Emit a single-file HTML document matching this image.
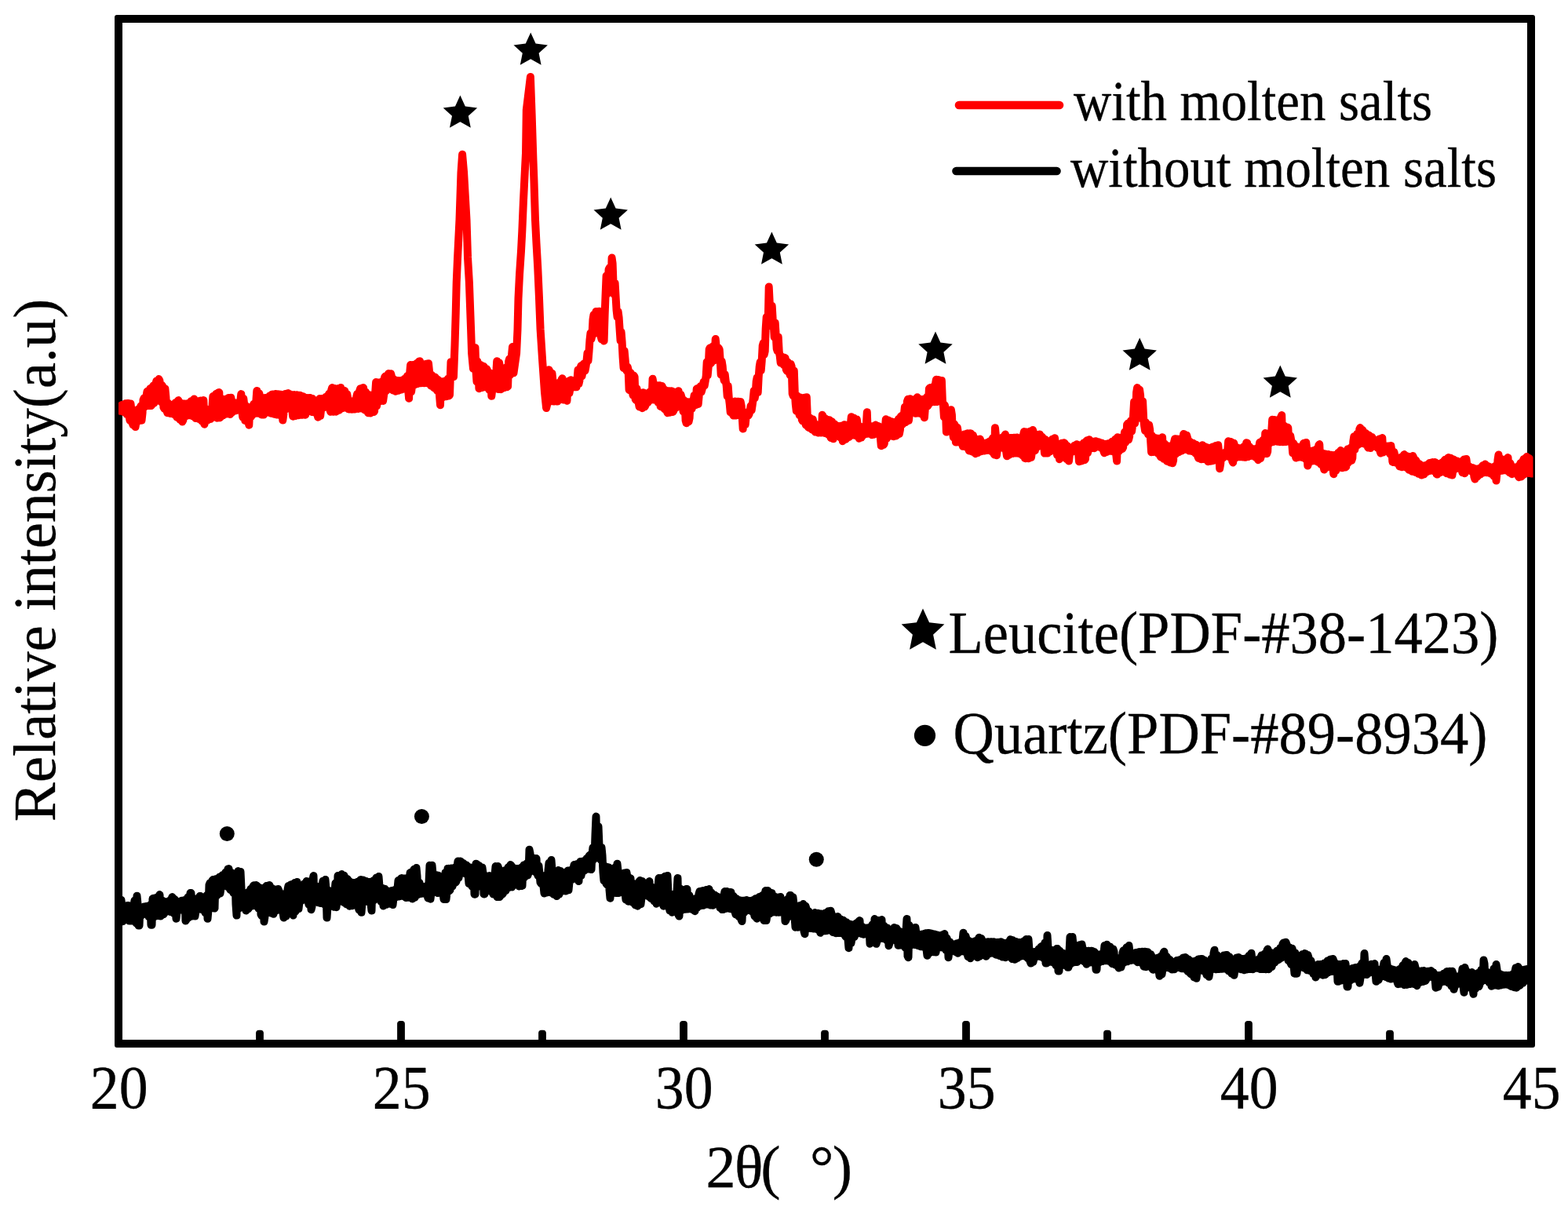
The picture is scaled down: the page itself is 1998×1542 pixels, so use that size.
<!DOCTYPE html>
<html lang="en">
<head>
<meta charset="utf-8">
<title>XRD patterns with and without molten salts</title>
<style>
html,body{margin:0;padding:0;background:#fff;}
body{width:1998px;height:1542px;overflow:hidden;}
svg{display:block;}
</style>
</head>
<body>
<svg width="1998" height="1542" viewBox="0 0 1998 1542">
<rect width="1998" height="1542" fill="#fff"/>
<g id="axes" fill="#000">
<path fill-rule="evenodd" d="M149 19H1953Q1956 19 1956 22V1332Q1956 1335 1953 1335H149Q146 1335 146 1332V22Q146 19 149 19ZM156 29V1325H1946V29Z"/>
</g>
<g id="ticks" fill="#000">
<rect x="506.1" y="1301" width="9.8" height="28" rx="3.8"/>
<rect x="866.1" y="1301" width="9.8" height="28" rx="3.8"/>
<rect x="1226.1" y="1301" width="9.8" height="28" rx="3.8"/>
<rect x="1586.1" y="1301" width="9.8" height="28" rx="3.8"/>
<rect x="326.1" y="1312.8" width="9.8" height="16" rx="3.8"/>
<rect x="686.1" y="1312.8" width="9.8" height="16" rx="3.8"/>
<rect x="1046.1" y="1312.8" width="9.8" height="16" rx="3.8"/>
<rect x="1406.1" y="1312.8" width="9.8" height="16" rx="3.8"/>
<rect x="1766.1" y="1312.8" width="9.8" height="16" rx="3.8"/>
</g>
<defs><clipPath id="plotclip"><rect x="151" y="24" width="1802.5" height="1306"/></clipPath></defs>
<g clip-path="url(#plotclip)">
<polyline id="curve-without" points="146.0,1147.1 151.0,1147.1 152.5,1171.6 153.5,1172.7 154.5,1147.1 155.5,1155.1 156.5,1174.2 157.5,1172.2 158.5,1156.7 159.5,1156.7 160.5,1171.3 161.5,1172.1 162.5,1154.1 163.5,1154.1 164.5,1173.6 165.5,1173.5 166.5,1155.7 167.5,1155.7 168.5,1173.4 169.5,1173.3 170.5,1154.1 171.5,1147.4 172.5,1174.2 173.5,1176.5 174.5,1141.7 175.5,1151.9 176.5,1179.6 177.5,1179.6 178.5,1155.9 179.5,1156.9 180.5,1166.6 181.5,1165.4 182.5,1156.3 183.5,1155.5 184.5,1164.8 185.5,1164.3 186.5,1155.1 187.5,1155.1 188.5,1165.2 189.5,1168.3 190.5,1154.7 191.5,1153.1 192.5,1178.8 193.5,1178.8 194.5,1145.3 195.5,1144.8 196.5,1168.5 197.5,1166.7 198.5,1144.3 199.5,1143.7 200.5,1166.5 201.5,1167.1 202.5,1142.1 203.5,1140.1 204.5,1167.6 205.5,1166.6 206.5,1147.2 207.5,1149.0 208.5,1165.2 209.5,1163.2 210.5,1149.4 211.5,1149.2 212.5,1161.6 213.5,1161.4 214.5,1149.0 215.5,1148.1 216.5,1161.7 217.5,1162.1 218.5,1145.4 219.5,1143.1 220.5,1162.6 221.5,1164.1 222.5,1145.9 223.5,1148.9 224.5,1170.8 225.5,1161.4 226.5,1149.9 227.5,1149.3 228.5,1159.6 229.5,1158.6 230.5,1148.3 231.5,1147.7 232.5,1158.6 233.5,1160.2 234.5,1147.4 235.5,1147.0 236.5,1173.6 237.5,1172.0 238.5,1146.1 239.5,1143.2 240.5,1169.3 241.5,1167.7 242.5,1138.1 243.5,1138.1 244.5,1167.3 245.5,1167.4 246.5,1144.8 247.5,1146.4 248.5,1167.6 249.5,1160.5 250.5,1146.6 251.5,1145.2 252.5,1158.7 253.5,1158.4 254.5,1142.1 255.5,1142.1 256.5,1158.8 257.5,1159.2 258.5,1144.1 259.5,1145.0 260.5,1160.1 261.5,1163.2 262.5,1144.1 263.5,1140.8 264.5,1170.8 265.5,1159.5 266.5,1127.9 267.5,1125.3 268.5,1157.7 269.5,1157.3 270.5,1122.0 271.5,1121.0 272.5,1157.4 273.5,1157.6 274.5,1120.5 275.5,1120.0 276.5,1141.4 277.5,1139.6 278.5,1119.2 279.5,1117.7 280.5,1138.5 281.5,1131.9 282.5,1116.3 283.5,1115.3 284.5,1128.4 285.5,1127.4 286.5,1114.2 287.5,1111.4 288.5,1128.1 289.5,1129.9 290.5,1107.5 291.5,1107.1 292.5,1131.9 293.5,1133.9 294.5,1111.7 295.5,1113.5 296.5,1135.9 297.5,1138.0 298.5,1113.8 299.5,1113.3 300.5,1152.5 301.5,1166.6 302.5,1112.7 303.5,1110.1 304.5,1157.7 305.5,1155.1 306.5,1111.1 307.5,1132.1 308.5,1154.4 309.5,1155.4 310.5,1138.8 311.5,1139.9 312.5,1157.8 313.5,1160.6 314.5,1139.2 315.5,1137.4 316.5,1158.3 317.5,1156.3 318.5,1135.4 319.5,1132.8 320.5,1154.7 321.5,1154.2 322.5,1129.3 323.5,1128.2 324.5,1154.1 325.5,1154.3 326.5,1128.1 327.5,1128.6 328.5,1155.1 329.5,1157.9 330.5,1130.9 331.5,1132.6 332.5,1165.4 333.5,1167.0 334.5,1132.8 335.5,1131.8 336.5,1174.6 337.5,1167.9 338.5,1130.5 339.5,1129.0 340.5,1163.4 341.5,1162.3 342.5,1128.4 343.5,1128.1 344.5,1163.0 345.5,1163.5 346.5,1131.7 347.5,1133.6 348.5,1164.8 349.5,1160.7 350.5,1133.9 351.5,1133.5 352.5,1160.1 353.5,1159.7 354.5,1133.1 355.5,1135.5 356.5,1159.3 357.5,1160.1 358.5,1138.8 359.5,1140.5 360.5,1162.7 361.5,1169.6 362.5,1140.7 363.5,1139.3 364.5,1167.5 365.5,1162.4 366.5,1133.6 367.5,1128.9 368.5,1161.3 369.5,1162.0 370.5,1127.5 371.5,1127.1 372.5,1164.3 373.5,1166.6 374.5,1126.3 375.5,1125.1 376.5,1161.5 377.5,1159.7 378.5,1124.1 379.5,1129.7 380.5,1158.1 381.5,1149.5 382.5,1131.6 383.5,1131.8 384.5,1147.7 385.5,1147.0 386.5,1130.4 387.5,1126.4 388.5,1146.5 389.5,1146.5 390.5,1123.1 391.5,1123.4 392.5,1147.8 393.5,1152.9 394.5,1123.9 395.5,1123.3 396.5,1159.2 397.5,1155.2 398.5,1120.7 399.5,1116.1 400.5,1149.4 401.5,1148.4 402.5,1128.9 403.5,1131.7 404.5,1149.0 405.5,1150.2 406.5,1132.6 407.5,1131.7 408.5,1151.1 409.5,1151.1 410.5,1128.5 411.5,1122.7 412.5,1151.5 413.5,1152.8 414.5,1121.1 415.5,1132.6 416.5,1169.6 417.5,1155.0 418.5,1134.6 419.5,1135.6 420.5,1153.0 421.5,1152.6 422.5,1136.6 423.5,1136.8 424.5,1153.8 425.5,1155.8 426.5,1135.4 427.5,1125.3 428.5,1156.2 429.5,1148.8 430.5,1116.1 431.5,1116.1 432.5,1147.0 433.5,1146.6 434.5,1115.8 435.5,1114.1 436.5,1147.8 437.5,1149.8 438.5,1115.7 439.5,1118.8 440.5,1151.7 441.5,1152.2 442.5,1120.0 443.5,1121.2 444.5,1152.9 445.5,1154.7 446.5,1123.8 447.5,1124.9 448.5,1154.3 449.5,1153.9 450.5,1125.1 451.5,1125.1 452.5,1153.3 453.5,1154.0 454.5,1124.8 455.5,1123.7 456.5,1156.3 457.5,1159.5 458.5,1122.4 459.5,1121.1 460.5,1162.8 461.5,1149.6 462.5,1121.4 463.5,1122.0 464.5,1148.4 465.5,1148.6 466.5,1123.0 467.5,1123.9 468.5,1149.0 469.5,1149.4 470.5,1124.1 471.5,1124.1 472.5,1150.8 473.5,1160.6 474.5,1123.8 475.5,1122.5 476.5,1147.2 477.5,1143.2 478.5,1120.5 479.5,1118.5 480.5,1142.3 481.5,1143.2 482.5,1117.1 483.5,1129.3 484.5,1145.8 485.5,1149.0 486.5,1131.5 487.5,1132.2 488.5,1154.5 489.5,1153.2 490.5,1132.8 491.5,1134.8 492.5,1152.7 493.5,1152.0 494.5,1135.9 495.5,1135.7 496.5,1151.3 497.5,1151.8 498.5,1135.3 499.5,1134.9 500.5,1153.1 501.5,1144.5 502.5,1134.4 503.5,1133.8 504.5,1143.3 505.5,1142.9 506.5,1132.5 507.5,1122.1 508.5,1142.5 509.5,1142.0 510.5,1120.4 511.5,1119.1 512.5,1141.3 513.5,1141.9 514.5,1119.4 515.5,1119.7 516.5,1143.1 517.5,1144.1 518.5,1119.8 519.5,1118.4 520.5,1143.7 521.5,1143.3 522.5,1112.3 523.5,1111.8 524.5,1143.9 525.5,1145.5 526.5,1110.4 527.5,1107.7 528.5,1144.1 529.5,1142.1 530.5,1106.1 531.5,1116.4 532.5,1140.1 533.5,1139.2 534.5,1125.0 535.5,1129.0 536.5,1138.9 537.5,1138.6 538.5,1130.0 539.5,1130.1 540.5,1138.2 541.5,1139.1 542.5,1130.0 543.5,1129.1 544.5,1141.7 545.5,1144.6 546.5,1125.1 547.5,1102.7 548.5,1145.7 549.5,1137.4 550.5,1102.7 551.5,1113.7 552.5,1135.8 553.5,1135.6 554.5,1114.9 555.5,1115.1 556.5,1136.7 557.5,1138.1 558.5,1115.7 559.5,1121.9 560.5,1137.7 561.5,1137.4 562.5,1123.5 563.5,1123.5 564.5,1138.6 565.5,1146.1 566.5,1121.9 567.5,1111.9 568.5,1146.1 569.5,1136.5 570.5,1107.0 571.5,1106.8 572.5,1135.3 573.5,1134.4 574.5,1106.6 575.5,1106.4 576.5,1129.4 577.5,1126.2 578.5,1106.1 579.5,1105.7 580.5,1124.7 581.5,1123.2 582.5,1104.1 583.5,1097.5 584.5,1118.5 585.5,1113.3 586.5,1097.5 587.5,1098.1 588.5,1112.3 589.5,1112.6 590.5,1100.1 591.5,1101.6 592.5,1113.0 593.5,1113.5 594.5,1102.6 595.5,1103.8 596.5,1115.1 597.5,1126.1 598.5,1105.3 599.5,1106.6 600.5,1127.9 601.5,1129.5 602.5,1106.6 603.5,1105.0 604.5,1139.7 605.5,1139.7 606.5,1100.7 607.5,1101.1 608.5,1130.3 609.5,1129.3 610.5,1103.0 611.5,1104.6 612.5,1129.2 613.5,1130.1 614.5,1105.6 615.5,1113.0 616.5,1139.5 617.5,1139.5 618.5,1116.0 619.5,1117.5 620.5,1134.6 621.5,1133.4 622.5,1117.7 623.5,1116.1 624.5,1133.8 625.5,1136.0 626.5,1116.7 627.5,1116.6 628.5,1139.5 629.5,1139.3 630.5,1115.1 631.5,1104.1 632.5,1139.6 633.5,1143.1 634.5,1104.1 635.5,1107.0 636.5,1143.1 637.5,1142.0 638.5,1109.8 639.5,1110.9 640.5,1139.3 641.5,1137.5 642.5,1110.2 643.5,1109.2 644.5,1134.9 645.5,1131.9 646.5,1108.2 647.5,1105.3 648.5,1130.9 649.5,1130.6 650.5,1102.1 651.5,1103.1 652.5,1130.4 653.5,1128.3 654.5,1105.9 655.5,1106.9 656.5,1126.7 657.5,1126.5 658.5,1107.1 659.5,1107.1 660.5,1127.7 661.5,1129.5 662.5,1107.0 663.5,1106.1 664.5,1129.1 665.5,1128.7 666.5,1103.9 667.5,1102.3 668.5,1117.9 669.5,1116.0 670.5,1101.7 671.5,1100.1 672.5,1115.4 673.5,1112.4 674.5,1082.7 675.5,1087.6 676.5,1109.4 677.5,1108.4 678.5,1092.9 679.5,1093.9 680.5,1109.0 681.5,1110.9 682.5,1094.1 683.5,1094.1 684.5,1112.9 685.5,1116.0 686.5,1103.5 687.5,1114.0 688.5,1124.5 689.5,1126.0 690.5,1117.6 691.5,1118.7 692.5,1129.0 693.5,1138.5 694.5,1118.0 695.5,1115.4 696.5,1137.6 697.5,1136.6 698.5,1108.7 699.5,1099.7 700.5,1136.5 701.5,1137.5 702.5,1096.1 703.5,1108.7 704.5,1138.6 705.5,1139.8 706.5,1110.5 707.5,1110.8 708.5,1141.0 709.5,1142.1 710.5,1110.0 711.5,1109.1 712.5,1139.7 713.5,1136.3 714.5,1110.1 715.5,1111.9 716.5,1135.3 717.5,1135.3 718.5,1112.9 719.5,1112.2 720.5,1135.4 721.5,1135.5 722.5,1110.7 723.5,1109.6 724.5,1134.3 725.5,1124.0 726.5,1109.2 727.5,1108.7 728.5,1121.1 729.5,1120.2 730.5,1107.2 731.5,1102.1 732.5,1119.7 733.5,1119.3 734.5,1101.5 735.5,1101.0 736.5,1120.0 737.5,1123.1 738.5,1100.2 739.5,1097.9 740.5,1115.9 741.5,1111.3 742.5,1097.6 743.5,1097.4 744.5,1109.8 745.5,1108.3 746.5,1096.6 747.5,1094.2 748.5,1107.3 749.5,1107.6 750.5,1090.8 751.5,1089.8 752.5,1107.9 753.5,1108.1 754.5,1088.3 755.5,1080.1 756.5,1095.5 757.5,1093.6 758.5,1064.0 759.5,1040.6 760.5,1093.1 761.5,1093.1 762.5,1053.4 763.5,1077.7 764.5,1093.8 765.5,1095.9 766.5,1079.9 767.5,1090.3 768.5,1111.9 769.5,1122.4 770.5,1103.4 771.5,1104.8 772.5,1126.2 773.5,1127.3 774.5,1105.1 775.5,1105.3 776.5,1133.9 777.5,1144.7 778.5,1107.9 779.5,1108.9 780.5,1138.8 781.5,1137.5 782.5,1108.3 783.5,1105.6 784.5,1137.5 785.5,1138.0 786.5,1100.7 787.5,1109.8 788.5,1138.1 789.5,1137.6 790.5,1113.0 791.5,1113.9 792.5,1137.1 793.5,1137.1 794.5,1113.1 795.5,1112.5 796.5,1138.4 797.5,1146.6 798.5,1112.1 799.5,1117.8 800.5,1148.7 801.5,1148.4 802.5,1118.9 803.5,1119.3 804.5,1148.5 805.5,1149.8 806.5,1125.6 807.5,1127.4 808.5,1151.8 809.5,1153.4 810.5,1127.6 811.5,1126.3 812.5,1154.7 813.5,1153.2 814.5,1123.3 815.5,1122.1 816.5,1152.2 817.5,1143.6 818.5,1123.0 819.5,1124.9 820.5,1140.2 821.5,1139.3 822.5,1126.5 823.5,1126.7 824.5,1140.2 825.5,1142.0 826.5,1125.4 827.5,1123.1 828.5,1143.8 829.5,1144.9 830.5,1130.5 831.5,1133.5 832.5,1145.9 833.5,1148.4 834.5,1134.4 835.5,1133.5 836.5,1151.7 837.5,1150.3 838.5,1129.5 839.5,1119.1 840.5,1149.3 841.5,1150.0 842.5,1119.1 843.5,1118.8 844.5,1152.3 845.5,1154.7 846.5,1117.5 847.5,1116.7 848.5,1154.5 849.5,1154.5 850.5,1116.1 851.5,1138.7 852.5,1155.9 853.5,1160.6 854.5,1139.9 855.5,1140.1 856.5,1162.8 857.5,1160.7 858.5,1140.1 859.5,1139.3 860.5,1160.5 861.5,1161.9 862.5,1136.7 863.5,1119.1 864.5,1165.9 865.5,1167.6 866.5,1132.2 867.5,1134.4 868.5,1160.2 869.5,1159.0 870.5,1134.8 871.5,1133.9 872.5,1158.8 873.5,1158.8 874.5,1133.1 875.5,1133.1 876.5,1158.5 877.5,1157.7 878.5,1141.2 879.5,1145.1 880.5,1157.5 881.5,1158.7 882.5,1146.0 883.5,1146.1 884.5,1160.4 885.5,1161.2 886.5,1145.8 887.5,1144.4 888.5,1156.8 889.5,1154.8 890.5,1139.2 891.5,1135.9 892.5,1154.2 893.5,1153.9 894.5,1135.5 895.5,1135.1 896.5,1153.7 897.5,1153.0 898.5,1134.6 899.5,1134.1 900.5,1152.4 901.5,1152.6 902.5,1133.6 903.5,1133.1 904.5,1153.1 905.5,1153.5 906.5,1137.4 907.5,1139.5 908.5,1153.7 909.5,1152.6 910.5,1140.4 911.5,1141.2 912.5,1151.5 913.5,1151.5 914.5,1142.6 915.5,1144.1 916.5,1153.1 917.5,1156.9 918.5,1145.0 919.5,1144.1 920.5,1159.1 921.5,1159.1 922.5,1140.8 923.5,1136.1 924.5,1157.9 925.5,1157.2 926.5,1136.1 927.5,1136.6 928.5,1157.5 929.5,1157.9 930.5,1137.0 931.5,1137.2 932.5,1158.2 933.5,1159.1 934.5,1141.7 935.5,1143.5 936.5,1161.9 937.5,1165.5 938.5,1145.2 939.5,1146.6 940.5,1166.5 941.5,1168.1 942.5,1147.2 943.5,1147.5 944.5,1171.9 945.5,1174.1 946.5,1147.8 947.5,1147.8 948.5,1162.6 949.5,1160.0 950.5,1147.4 951.5,1147.1 952.5,1159.3 953.5,1159.9 954.5,1147.9 955.5,1148.7 956.5,1160.5 957.5,1161.1 958.5,1148.7 959.5,1147.1 960.5,1162.7 961.5,1167.6 962.5,1145.4 963.5,1145.0 964.5,1170.7 965.5,1169.1 966.5,1144.2 967.5,1143.0 968.5,1168.3 969.5,1169.1 970.5,1141.9 971.5,1141.1 972.5,1171.0 973.5,1173.1 974.5,1140.1 975.5,1135.1 976.5,1173.1 977.5,1166.4 978.5,1135.1 979.5,1137.1 980.5,1164.6 981.5,1163.6 982.5,1138.0 983.5,1138.2 984.5,1162.6 985.5,1161.6 986.5,1141.9 987.5,1143.5 988.5,1161.5 989.5,1162.7 990.5,1143.8 991.5,1143.5 992.5,1162.7 993.5,1161.6 994.5,1143.1 995.5,1150.4 996.5,1161.6 997.5,1163.2 998.5,1152.1 999.5,1152.3 1000.5,1174.1 1001.5,1172.8 1002.5,1150.9 1003.5,1145.8 1004.5,1168.4 1005.5,1166.7 1006.5,1141.1 1007.5,1141.1 1008.5,1166.5 1009.5,1167.3 1010.5,1143.5 1011.5,1152.7 1012.5,1168.5 1013.5,1181.7 1014.5,1154.5 1015.5,1154.8 1016.5,1181.7 1017.5,1179.9 1018.5,1154.4 1019.5,1154.0 1020.5,1179.5 1021.5,1180.6 1022.5,1153.3 1023.5,1152.1 1024.5,1186.9 1025.5,1190.2 1026.5,1154.7 1027.5,1158.0 1028.5,1183.8 1029.5,1182.5 1030.5,1161.4 1031.5,1165.8 1032.5,1182.6 1033.5,1183.1 1034.5,1166.8 1035.5,1166.2 1036.5,1183.5 1037.5,1183.4 1038.5,1163.1 1039.5,1163.6 1040.5,1183.3 1041.5,1184.2 1042.5,1163.8 1043.5,1164.2 1044.5,1186.9 1045.5,1188.8 1046.5,1164.5 1047.5,1164.8 1048.5,1186.7 1049.5,1186.2 1050.5,1164.7 1051.5,1163.6 1052.5,1186.2 1053.5,1186.0 1054.5,1162.3 1055.5,1161.3 1056.5,1185.4 1057.5,1184.9 1058.5,1160.7 1059.5,1164.2 1060.5,1185.7 1061.5,1188.1 1062.5,1167.9 1063.5,1168.9 1064.5,1188.9 1065.5,1189.2 1066.5,1168.7 1067.5,1168.1 1068.5,1189.1 1069.5,1189.0 1070.5,1171.0 1071.5,1172.0 1072.5,1188.9 1073.5,1189.7 1074.5,1172.8 1075.5,1173.7 1076.5,1191.6 1077.5,1193.8 1078.5,1175.2 1079.5,1176.6 1080.5,1197.0 1081.5,1208.2 1082.5,1177.4 1083.5,1178.2 1084.5,1202.0 1085.5,1196.3 1086.5,1178.5 1087.5,1178.2 1088.5,1194.3 1089.5,1191.9 1090.5,1177.7 1091.5,1176.3 1092.5,1189.4 1093.5,1188.3 1094.5,1173.8 1095.5,1173.1 1096.5,1189.0 1097.5,1190.0 1098.5,1180.8 1099.5,1182.6 1100.5,1190.8 1101.5,1189.3 1102.5,1182.9 1103.5,1182.6 1104.5,1189.3 1105.5,1190.9 1106.5,1182.4 1107.5,1182.1 1108.5,1202.8 1109.5,1201.3 1110.5,1181.2 1111.5,1178.3 1112.5,1200.3 1113.5,1201.0 1114.5,1171.1 1115.5,1172.2 1116.5,1202.8 1117.5,1199.8 1118.5,1173.0 1119.5,1173.1 1120.5,1196.4 1121.5,1195.3 1122.5,1172.6 1123.5,1172.1 1124.5,1195.6 1125.5,1196.0 1126.5,1179.8 1127.5,1181.6 1128.5,1196.5 1129.5,1198.0 1130.5,1182.6 1131.5,1185.7 1132.5,1205.2 1133.5,1201.8 1134.5,1187.5 1135.5,1187.8 1136.5,1196.4 1137.5,1195.4 1138.5,1186.4 1139.5,1182.1 1140.5,1196.0 1141.5,1198.6 1142.5,1183.1 1143.5,1185.0 1144.5,1204.8 1145.5,1204.6 1146.5,1186.9 1147.5,1188.0 1148.5,1204.5 1149.5,1204.3 1150.5,1188.1 1151.5,1187.8 1152.5,1205.0 1153.5,1207.6 1154.5,1186.5 1155.5,1171.1 1156.5,1218.4 1157.5,1220.2 1158.5,1179.0 1159.5,1182.1 1160.5,1204.9 1161.5,1203.5 1162.5,1183.0 1163.5,1182.7 1164.5,1203.5 1165.5,1203.9 1166.5,1182.1 1167.5,1189.4 1168.5,1204.2 1169.5,1204.9 1170.5,1190.8 1171.5,1191.0 1172.5,1205.9 1173.5,1206.2 1174.5,1190.8 1175.5,1190.4 1176.5,1206.2 1177.5,1207.0 1178.5,1189.8 1179.5,1189.2 1180.5,1209.6 1181.5,1217.8 1182.5,1189.1 1183.5,1189.1 1184.5,1214.6 1185.5,1212.8 1186.5,1189.5 1187.5,1190.0 1188.5,1212.5 1189.5,1213.2 1190.5,1190.4 1191.5,1190.8 1192.5,1213.6 1193.5,1208.6 1194.5,1191.6 1195.5,1192.6 1196.5,1207.4 1197.5,1207.3 1198.5,1192.8 1199.5,1191.7 1200.5,1207.5 1201.5,1207.6 1202.5,1190.6 1203.5,1190.1 1204.5,1208.4 1205.5,1211.0 1206.5,1195.6 1207.5,1198.2 1208.5,1220.2 1209.5,1212.3 1210.5,1200.6 1211.5,1202.9 1212.5,1211.1 1213.5,1211.4 1214.5,1203.9 1215.5,1203.5 1216.5,1212.1 1217.5,1213.0 1218.5,1202.9 1219.5,1202.2 1220.5,1214.8 1221.5,1213.4 1222.5,1201.5 1223.5,1200.9 1224.5,1212.4 1225.5,1212.2 1226.5,1199.5 1227.5,1188.7 1228.5,1212.2 1229.5,1213.0 1230.5,1193.0 1231.5,1196.4 1232.5,1215.3 1233.5,1219.3 1234.5,1198.8 1235.5,1200.5 1236.5,1221.2 1237.5,1218.5 1238.5,1200.9 1239.5,1200.2 1240.5,1216.8 1241.5,1216.6 1242.5,1199.5 1243.5,1198.9 1244.5,1217.8 1245.5,1220.2 1246.5,1197.5 1247.5,1194.7 1248.5,1218.7 1249.5,1217.4 1250.5,1196.0 1251.5,1198.7 1252.5,1216.4 1253.5,1216.9 1254.5,1200.5 1255.5,1200.9 1256.5,1218.8 1257.5,1217.4 1258.5,1200.4 1259.5,1200.2 1260.5,1215.5 1261.5,1213.8 1262.5,1200.2 1263.5,1200.2 1264.5,1213.5 1265.5,1214.7 1266.5,1200.3 1267.5,1200.7 1268.5,1216.2 1269.5,1216.8 1270.5,1201.0 1271.5,1200.8 1272.5,1217.2 1273.5,1217.9 1274.5,1200.5 1275.5,1200.2 1276.5,1218.9 1277.5,1219.6 1278.5,1201.4 1279.5,1202.5 1280.5,1219.9 1281.5,1220.2 1282.5,1202.8 1283.5,1201.6 1284.5,1218.8 1285.5,1218.6 1286.5,1198.8 1287.5,1197.2 1288.5,1219.8 1289.5,1222.0 1290.5,1198.2 1291.5,1199.1 1292.5,1222.7 1293.5,1222.7 1294.5,1199.9 1295.5,1200.7 1296.5,1221.1 1297.5,1219.9 1298.5,1201.1 1299.5,1201.1 1300.5,1218.7 1301.5,1217.6 1302.5,1201.0 1303.5,1200.1 1304.5,1217.6 1305.5,1218.5 1306.5,1198.2 1307.5,1197.1 1308.5,1219.5 1309.5,1221.1 1310.5,1197.1 1311.5,1210.9 1312.5,1224.9 1313.5,1227.6 1314.5,1212.6 1315.5,1213.1 1316.5,1225.8 1317.5,1222.0 1318.5,1213.1 1319.5,1213.0 1320.5,1219.2 1321.5,1218.3 1322.5,1212.1 1323.5,1209.4 1324.5,1218.6 1325.5,1219.0 1326.5,1206.4 1327.5,1206.0 1328.5,1219.6 1329.5,1221.1 1330.5,1205.1 1331.5,1201.2 1332.5,1227.6 1333.5,1227.6 1334.5,1192.1 1335.5,1207.7 1336.5,1226.1 1337.5,1225.3 1338.5,1210.3 1339.5,1211.1 1340.5,1225.7 1341.5,1226.2 1342.5,1211.1 1343.5,1210.7 1344.5,1227.1 1345.5,1230.3 1346.5,1209.1 1347.5,1209.1 1348.5,1237.6 1349.5,1237.6 1350.5,1211.8 1351.5,1213.3 1352.5,1230.5 1353.5,1228.9 1354.5,1214.7 1355.5,1215.3 1356.5,1228.6 1357.5,1230.0 1358.5,1215.8 1359.5,1215.7 1360.5,1232.8 1361.5,1232.8 1362.5,1214.1 1363.5,1194.1 1364.5,1228.3 1365.5,1226.7 1366.5,1194.1 1367.5,1203.7 1368.5,1226.2 1369.5,1226.2 1370.5,1204.9 1371.5,1205.1 1372.5,1226.0 1373.5,1224.8 1374.5,1205.0 1375.5,1204.3 1376.5,1223.6 1377.5,1223.5 1378.5,1203.5 1379.5,1208.7 1380.5,1224.5 1381.5,1225.5 1382.5,1211.3 1383.5,1212.0 1384.5,1228.8 1385.5,1227.4 1386.5,1211.9 1387.5,1211.7 1388.5,1226.6 1389.5,1226.2 1390.5,1211.7 1391.5,1211.9 1392.5,1226.3 1393.5,1227.2 1394.5,1212.9 1395.5,1214.7 1396.5,1235.8 1397.5,1235.8 1398.5,1216.2 1399.5,1216.5 1400.5,1226.7 1401.5,1225.4 1402.5,1216.2 1403.5,1215.7 1404.5,1225.0 1405.5,1224.6 1406.5,1214.1 1407.5,1204.9 1408.5,1224.3 1409.5,1224.1 1410.5,1203.7 1411.5,1205.2 1412.5,1224.3 1413.5,1225.1 1414.5,1206.5 1415.5,1208.0 1416.5,1227.3 1417.5,1228.2 1418.5,1209.6 1419.5,1212.7 1420.5,1228.6 1421.5,1229.8 1422.5,1220.4 1423.5,1222.1 1424.5,1231.3 1425.5,1233.6 1426.5,1222.3 1427.5,1220.9 1428.5,1232.4 1429.5,1228.5 1430.5,1214.2 1431.5,1211.2 1432.5,1226.7 1433.5,1225.9 1434.5,1210.2 1435.5,1207.3 1436.5,1225.3 1437.5,1224.6 1438.5,1205.1 1439.5,1213.4 1440.5,1224.1 1441.5,1223.8 1442.5,1214.8 1443.5,1214.7 1444.5,1223.4 1445.5,1223.5 1446.5,1214.3 1447.5,1213.9 1448.5,1224.9 1449.5,1226.2 1450.5,1213.5 1451.5,1213.1 1452.5,1226.2 1453.5,1226.6 1454.5,1212.9 1455.5,1212.8 1456.5,1228.0 1457.5,1231.7 1458.5,1212.7 1459.5,1212.9 1460.5,1232.2 1461.5,1230.7 1462.5,1213.2 1463.5,1214.4 1464.5,1230.7 1465.5,1232.0 1466.5,1216.3 1467.5,1218.7 1468.5,1235.0 1469.5,1235.8 1470.5,1220.9 1471.5,1222.0 1472.5,1234.7 1473.5,1234.7 1474.5,1221.4 1475.5,1220.6 1476.5,1236.1 1477.5,1243.8 1478.5,1219.8 1479.5,1218.3 1480.5,1241.5 1481.5,1234.9 1482.5,1214.1 1483.5,1212.7 1484.5,1233.5 1485.5,1233.2 1486.5,1218.8 1487.5,1220.7 1488.5,1233.2 1489.5,1233.5 1490.5,1222.9 1491.5,1225.9 1492.5,1234.6 1493.5,1235.6 1494.5,1227.0 1495.5,1226.3 1496.5,1235.2 1497.5,1233.4 1498.5,1225.1 1499.5,1223.9 1500.5,1232.3 1501.5,1232.9 1502.5,1223.5 1503.5,1223.1 1504.5,1233.7 1505.5,1234.3 1506.5,1222.3 1507.5,1220.6 1508.5,1234.4 1509.5,1234.6 1510.5,1220.1 1511.5,1221.1 1512.5,1235.4 1513.5,1237.9 1514.5,1222.5 1515.5,1224.0 1516.5,1240.2 1517.5,1241.4 1518.5,1225.0 1519.5,1225.7 1520.5,1242.9 1521.5,1245.4 1522.5,1225.8 1523.5,1224.5 1524.5,1246.8 1525.5,1238.5 1526.5,1222.7 1527.5,1222.3 1528.5,1236.7 1529.5,1236.4 1530.5,1222.1 1531.5,1222.1 1532.5,1236.9 1533.5,1237.5 1534.5,1223.6 1535.5,1225.9 1536.5,1238.9 1537.5,1242.5 1538.5,1227.0 1539.5,1226.3 1540.5,1244.8 1541.5,1238.2 1542.5,1224.2 1543.5,1221.5 1544.5,1235.2 1545.5,1234.3 1546.5,1214.8 1547.5,1210.7 1548.5,1234.7 1549.5,1235.2 1550.5,1217.1 1551.5,1221.8 1552.5,1235.1 1553.5,1235.0 1554.5,1222.9 1555.5,1222.2 1556.5,1234.8 1557.5,1234.6 1558.5,1220.0 1559.5,1217.4 1560.5,1234.4 1561.5,1234.5 1562.5,1217.1 1563.5,1217.1 1564.5,1235.7 1565.5,1237.3 1566.5,1219.5 1567.5,1224.7 1568.5,1238.9 1569.5,1240.7 1570.5,1225.7 1571.5,1225.1 1572.5,1242.8 1573.5,1235.9 1574.5,1223.0 1575.5,1220.5 1576.5,1234.5 1577.5,1234.5 1578.5,1220.1 1579.5,1221.6 1580.5,1234.9 1581.5,1235.2 1582.5,1222.1 1583.5,1222.1 1584.5,1235.7 1585.5,1236.2 1586.5,1221.8 1587.5,1221.2 1588.5,1235.6 1589.5,1234.9 1590.5,1220.3 1591.5,1217.7 1592.5,1235.0 1593.5,1235.1 1594.5,1214.7 1595.5,1223.4 1596.5,1235.2 1597.5,1234.1 1598.5,1224.8 1599.5,1224.6 1600.5,1233.3 1601.5,1233.8 1602.5,1223.5 1603.5,1222.4 1604.5,1234.4 1605.5,1234.9 1606.5,1220.1 1607.5,1217.4 1608.5,1235.0 1609.5,1235.1 1610.5,1216.8 1611.5,1215.5 1612.5,1235.2 1613.5,1235.2 1614.5,1210.9 1615.5,1209.5 1616.5,1235.2 1617.5,1234.0 1618.5,1213.6 1619.5,1215.4 1620.5,1232.0 1621.5,1228.7 1622.5,1215.7 1623.5,1214.5 1624.5,1226.4 1625.5,1224.4 1626.5,1212.5 1627.5,1211.4 1628.5,1223.3 1629.5,1222.9 1630.5,1210.4 1631.5,1207.9 1632.5,1220.7 1633.5,1217.6 1634.5,1202.9 1635.5,1201.5 1636.5,1216.5 1637.5,1217.1 1638.5,1200.7 1639.5,1203.5 1640.5,1219.3 1641.5,1224.0 1642.5,1207.0 1643.5,1208.0 1644.5,1227.4 1645.5,1229.2 1646.5,1208.7 1647.5,1212.0 1648.5,1230.1 1649.5,1240.7 1650.5,1214.5 1651.5,1217.0 1652.5,1240.7 1653.5,1232.6 1654.5,1218.6 1655.5,1218.7 1656.5,1231.4 1657.5,1231.8 1658.5,1217.5 1659.5,1216.2 1660.5,1232.7 1661.5,1233.5 1662.5,1215.1 1663.5,1215.5 1664.5,1234.8 1665.5,1236.3 1666.5,1217.1 1667.5,1220.2 1668.5,1236.8 1669.5,1237.2 1670.5,1224.4 1671.5,1228.9 1672.5,1238.1 1673.5,1241.1 1674.5,1230.5 1675.5,1230.7 1676.5,1245.6 1677.5,1243.8 1678.5,1229.9 1679.5,1229.1 1680.5,1241.3 1681.5,1240.4 1682.5,1229.1 1683.5,1229.1 1684.5,1241.1 1685.5,1242.7 1686.5,1228.7 1687.5,1227.4 1688.5,1242.2 1689.5,1241.2 1690.5,1225.9 1691.5,1224.4 1692.5,1239.2 1693.5,1238.3 1694.5,1222.9 1695.5,1222.4 1696.5,1238.0 1697.5,1237.8 1698.5,1222.1 1699.5,1224.8 1700.5,1237.7 1701.5,1238.6 1702.5,1227.9 1703.5,1229.0 1704.5,1250.8 1705.5,1250.8 1706.5,1229.1 1707.5,1229.0 1708.5,1249.6 1709.5,1248.9 1710.5,1228.6 1711.5,1228.1 1712.5,1248.3 1713.5,1249.2 1714.5,1228.1 1715.5,1236.3 1716.5,1257.6 1717.5,1257.6 1718.5,1237.0 1719.5,1236.0 1720.5,1249.7 1721.5,1248.4 1722.5,1234.8 1723.5,1234.0 1724.5,1247.5 1725.5,1246.6 1726.5,1233.2 1727.5,1233.1 1728.5,1246.6 1729.5,1248.2 1730.5,1233.0 1731.5,1232.1 1732.5,1252.8 1733.5,1246.8 1734.5,1230.0 1735.5,1227.3 1736.5,1242.4 1737.5,1241.3 1738.5,1215.1 1739.5,1227.7 1740.5,1241.7 1741.5,1242.1 1742.5,1230.3 1743.5,1231.0 1744.5,1240.1 1745.5,1237.6 1746.5,1230.0 1747.5,1228.8 1748.5,1236.4 1749.5,1236.9 1750.5,1228.6 1751.5,1228.1 1752.5,1239.0 1753.5,1250.8 1754.5,1235.9 1755.5,1236.9 1756.5,1249.1 1757.5,1246.6 1758.5,1236.3 1759.5,1235.2 1760.5,1244.4 1761.5,1243.3 1762.5,1232.4 1763.5,1226.9 1764.5,1244.0 1765.5,1245.0 1766.5,1222.1 1767.5,1228.9 1768.5,1246.0 1769.5,1246.8 1770.5,1233.9 1771.5,1235.0 1772.5,1247.6 1773.5,1246.9 1774.5,1235.5 1775.5,1236.0 1776.5,1246.3 1777.5,1247.4 1778.5,1236.5 1779.5,1237.0 1780.5,1251.6 1781.5,1254.2 1782.5,1236.3 1783.5,1234.9 1784.5,1253.7 1785.5,1253.3 1786.5,1233.3 1787.5,1230.3 1788.5,1254.0 1789.5,1255.2 1790.5,1227.1 1791.5,1225.1 1792.5,1254.9 1793.5,1254.5 1794.5,1226.9 1795.5,1229.9 1796.5,1254.1 1797.5,1253.7 1798.5,1230.9 1799.5,1230.3 1800.5,1253.3 1801.5,1254.0 1802.5,1229.1 1803.5,1232.9 1804.5,1254.8 1805.5,1256.2 1806.5,1236.9 1807.5,1238.0 1808.5,1252.4 1809.5,1251.3 1810.5,1237.7 1811.5,1237.3 1812.5,1251.1 1813.5,1250.9 1814.5,1237.1 1815.5,1237.6 1816.5,1249.9 1817.5,1247.8 1818.5,1238.0 1819.5,1237.7 1820.5,1245.4 1821.5,1244.3 1822.5,1237.3 1823.5,1237.1 1824.5,1244.8 1825.5,1245.5 1826.5,1239.1 1827.5,1241.9 1828.5,1247.0 1829.5,1258.8 1830.5,1243.0 1831.5,1243.1 1832.5,1257.7 1833.5,1253.5 1834.5,1243.1 1835.5,1242.8 1836.5,1251.7 1837.5,1251.1 1838.5,1241.8 1839.5,1240.8 1840.5,1250.7 1841.5,1250.3 1842.5,1239.6 1843.5,1238.1 1844.5,1251.0 1845.5,1252.5 1846.5,1237.9 1847.5,1237.8 1848.5,1254.0 1849.5,1256.6 1850.5,1237.7 1851.5,1240.8 1852.5,1260.8 1853.5,1257.9 1854.5,1243.9 1855.5,1245.0 1856.5,1254.4 1857.5,1253.3 1858.5,1244.5 1859.5,1243.8 1860.5,1253.2 1861.5,1254.0 1862.5,1242.5 1863.5,1234.4 1864.5,1256.6 1865.5,1264.8 1866.5,1233.1 1867.5,1236.3 1868.5,1259.1 1869.5,1256.5 1870.5,1239.1 1871.5,1240.0 1872.5,1255.9 1873.5,1256.9 1874.5,1239.6 1875.5,1239.1 1876.5,1261.0 1877.5,1266.8 1878.5,1241.1 1879.5,1242.0 1880.5,1259.7 1881.5,1257.8 1882.5,1241.3 1883.5,1239.8 1884.5,1257.1 1885.5,1254.5 1886.5,1238.3 1887.5,1235.7 1888.5,1250.5 1889.5,1249.4 1890.5,1223.5 1891.5,1228.1 1892.5,1249.1 1893.5,1248.9 1894.5,1238.5 1895.5,1239.8 1896.5,1249.6 1897.5,1252.1 1898.5,1240.6 1899.5,1240.8 1900.5,1256.8 1901.5,1256.3 1902.5,1239.4 1903.5,1234.5 1904.5,1255.6 1905.5,1255.4 1906.5,1229.1 1907.5,1235.6 1908.5,1255.9 1909.5,1256.2 1910.5,1240.8 1911.5,1242.0 1912.5,1255.5 1913.5,1254.9 1914.5,1242.5 1915.5,1243.0 1916.5,1254.7 1917.5,1254.5 1918.5,1243.1 1919.5,1243.1 1920.5,1254.3 1921.5,1254.9 1922.5,1243.1 1923.5,1243.1 1924.5,1255.9 1925.5,1256.9 1926.5,1242.8 1927.5,1241.4 1928.5,1257.7 1929.5,1258.3 1930.5,1237.7 1931.5,1233.2 1932.5,1258.8 1933.5,1257.3 1934.5,1232.1 1935.5,1233.9 1936.5,1255.9 1937.5,1254.4 1938.5,1235.8 1939.5,1236.9 1940.5,1252.8 1941.5,1251.2 1942.5,1236.4 1943.5,1235.4 1944.5,1249.8 1945.5,1249.1 1946.5,1235.1 1947.5,1235.1 1948.5,1248.8 1949.5,1248.5 1951.0,1235.1 1958.0,1235.1" fill="none" stroke="#000" stroke-width="10" stroke-linejoin="round" stroke-linecap="butt"/>
<polyline id="curve-with" points="146.0,517.8 151.0,517.8 152.5,523.4 153.5,523.8 154.5,516.9 155.5,516.0 156.5,524.2 157.5,525.0 158.5,515.1 159.5,514.3 160.5,526.4 161.5,527.9 162.5,514.1 163.5,514.1 164.5,530.6 165.5,535.9 166.5,514.6 167.5,522.9 168.5,538.8 169.5,541.5 170.5,524.5 171.5,524.7 172.5,544.1 173.5,538.3 174.5,523.5 175.5,521.7 176.5,536.6 177.5,536.1 178.5,520.0 179.5,517.3 180.5,535.7 181.5,526.6 182.5,509.7 183.5,507.3 184.5,518.6 185.5,517.4 186.5,504.7 187.5,498.8 188.5,517.1 189.5,517.1 190.5,496.7 191.5,495.0 192.5,517.1 193.4,516.1 194.4,493.2 195.4,491.4 196.4,513.7 197.4,511.2 198.4,488.9 199.4,485.4 200.4,510.3 201.4,510.6 202.4,483.1 203.4,485.0 204.4,511.0 205.4,512.4 206.4,490.8 207.4,492.7 208.4,519.1 209.4,520.9 210.4,495.6 211.4,506.0 212.4,523.5 213.4,526.3 214.4,513.7 215.4,515.6 216.4,526.6 217.4,526.9 218.4,516.1 219.4,516.1 220.4,527.2 221.4,527.9 222.4,515.3 223.4,513.3 224.4,529.7 225.4,531.7 226.4,511.4 227.4,510.1 228.4,533.2 229.4,534.8 230.4,513.6 231.4,514.2 232.4,537.5 233.4,535.2 234.4,514.6 235.4,514.5 236.4,530.7 237.4,529.7 238.4,514.3 239.4,514.1 240.4,529.3 241.4,528.9 242.4,513.3 243.4,511.3 244.4,529.5 245.4,530.4 246.4,509.5 247.4,508.5 248.4,531.8 249.4,533.1 250.4,511.6 251.4,511.8 252.4,533.2 253.4,533.9 254.4,510.8 255.4,510.6 256.4,535.2 257.4,536.8 258.4,516.3 259.4,510.1 260.4,540.7 261.4,537.4 262.4,521.1 263.4,522.1 264.4,535.6 265.4,534.8 266.4,523.0 267.4,522.2 268.4,534.0 269.4,532.2 270.4,519.6 271.4,504.9 272.4,530.7 273.4,530.5 274.4,503.6 275.4,501.8 276.4,532.7 277.4,532.5 278.3,500.4 279.3,500.1 280.3,532.4 281.3,531.2 282.3,507.9 283.3,508.9 284.3,529.3 285.3,528.2 286.3,509.1 287.3,508.8 288.3,527.6 289.3,527.4 290.3,507.8 291.3,507.0 292.3,527.6 293.3,528.1 294.3,506.7 295.3,511.9 296.3,525.2 297.3,524.1 298.3,513.0 299.3,513.5 300.3,523.3 301.3,522.9 302.3,514.0 303.3,513.2 304.3,522.5 305.3,522.5 306.3,510.8 307.3,502.1 308.3,523.9 309.3,531.7 310.3,508.0 311.3,515.8 312.3,535.9 313.3,536.2 314.3,517.7 315.3,519.0 316.3,536.9 317.3,541.7 318.3,519.9 319.3,519.4 320.3,530.8 321.3,528.1 322.3,517.4 323.3,514.9 324.3,527.2 325.3,526.7 326.3,511.9 327.3,498.1 328.3,526.3 329.3,526.8 330.3,501.4 331.3,505.9 332.3,527.8 333.3,528.4 334.3,506.9 335.3,507.1 336.3,528.5 337.3,526.3 338.3,507.1 339.3,507.0 340.3,525.3 341.3,525.6 342.3,506.4 343.3,504.6 344.3,526.1 345.3,526.7 346.3,502.8 347.3,502.5 348.3,527.2 349.3,527.8 350.3,502.2 351.3,502.1 352.3,528.3 353.3,528.5 354.3,502.3 355.3,502.5 356.3,528.8 357.3,529.5 358.3,502.8 359.3,503.0 360.3,535.5 361.3,528.3 362.3,502.6 363.2,502.1 364.2,521.6 365.2,520.4 366.2,501.5 367.2,501.1 368.2,520.1 369.2,520.4 370.2,502.4 371.2,503.4 372.2,521.5 373.2,530.7 374.2,503.9 375.2,503.1 376.2,530.0 377.2,529.6 378.2,503.2 379.2,503.5 380.2,529.3 381.2,529.0 382.2,503.8 383.2,504.3 384.2,528.8 385.2,528.7 386.2,505.2 387.2,506.0 388.2,528.7 389.2,528.7 390.2,506.9 391.2,507.1 392.2,524.6 393.2,523.4 394.2,507.1 395.2,507.1 396.2,523.7 397.2,524.9 398.2,508.0 399.2,509.4 400.2,525.4 401.2,525.7 402.2,510.4 403.2,510.9 404.2,526.7 405.2,531.7 406.2,509.9 407.2,508.1 408.2,529.9 409.2,520.8 410.2,508.1 411.2,508.1 412.2,519.4 413.2,518.8 414.2,507.6 415.2,505.9 416.2,518.3 417.2,519.0 418.2,503.9 419.2,501.8 420.2,521.6 421.2,524.7 422.2,497.3 423.2,494.1 424.2,524.7 425.2,524.7 426.2,494.9 427.2,495.8 428.2,524.7 429.2,523.9 430.2,495.6 431.2,494.9 432.2,522.8 433.2,521.5 434.2,494.1 435.2,496.7 436.2,520.4 437.2,519.9 438.2,497.8 439.2,498.1 440.2,519.4 441.2,519.7 442.2,502.2 443.2,507.5 444.2,521.3 445.2,521.5 446.2,511.5 447.2,512.7 448.1,521.7 449.1,521.6 450.1,512.4 451.1,510.6 452.1,521.4 453.1,521.1 454.1,506.1 455.1,502.1 456.1,520.9 457.1,520.6 458.1,498.3 459.1,495.2 460.1,520.3 461.1,520.6 462.1,494.4 463.1,494.1 464.1,521.6 465.1,522.6 466.1,499.7 467.1,502.3 468.1,524.2 469.1,526.2 470.1,503.1 471.1,503.5 472.1,526.5 473.1,525.8 474.1,503.9 475.1,503.5 476.1,525.1 477.1,524.1 478.1,501.7 479.1,487.1 480.1,517.3 481.1,512.3 482.1,487.4 483.1,487.8 484.1,511.3 485.1,511.0 486.1,487.5 487.1,485.7 488.1,510.9 489.1,503.6 490.1,480.7 491.1,479.5 492.1,498.3 493.1,496.6 494.1,477.8 495.1,476.1 496.1,495.4 497.1,495.6 498.1,476.3 499.1,480.0 500.1,496.6 501.1,497.6 502.1,483.4 503.1,484.8 504.1,498.7 505.1,498.3 506.1,485.1 507.1,485.1 508.1,497.7 509.1,497.0 510.1,485.1 511.1,485.1 512.1,496.4 513.1,495.9 514.1,484.5 515.1,483.0 516.1,495.5 517.1,495.3 518.1,481.0 519.1,478.9 520.1,496.3 521.1,507.7 522.1,476.2 523.1,465.1 524.1,499.1 525.1,491.5 526.1,465.1 527.1,465.1 528.1,490.4 529.1,489.8 530.1,464.5 531.1,462.7 532.1,489.2 533.0,488.6 534.0,460.5 535.0,460.2 536.0,488.2 537.0,488.2 538.0,463.9 539.0,464.9 540.0,488.2 541.0,488.2 542.0,464.5 543.0,463.7 544.0,488.2 545.0,488.4 546.0,463.2 547.0,473.2 548.0,489.6 549.0,491.6 550.0,477.7 551.0,479.6 552.0,492.9 553.0,494.3 554.0,480.4 555.0,481.1 556.0,495.8 557.0,498.0 558.0,483.7 559.0,485.5 560.0,503.8 561.0,516.2 562.0,486.2 563.0,486.2 564.0,506.6 565.0,505.4 566.0,486.2 567.0,485.5 568.0,505.2 569.0,505.2 570.0,484.5 571.0,482.4 572.0,504.4 573.0,503.4 574.5,461.2 578.0,480.0 579.5,440.0 580.7,400.0 581.7,360.0 583.0,330.0 584.5,300.0 585.5,280.0 587.5,220.0 589.1,196.8 591.1,220.0 594.5,280.0 596.0,328.0 597.9,360.0 600.1,420.0 601.1,450.0 603.0,470.0 604.5,446.4 605.5,443.1 606.5,472.6 607.5,486.4 608.4,460.6 609.4,464.0 610.4,495.2 611.4,494.6 612.4,465.1 613.4,465.9 614.4,494.0 615.4,493.3 616.4,466.7 617.4,468.4 618.4,493.2 619.3,493.3 620.3,470.2 621.3,472.5 622.3,494.0 623.3,496.6 624.3,475.5 625.3,478.0 626.3,504.8 627.3,496.4 628.3,478.9 629.2,478.3 630.2,495.4 631.2,495.5 632.2,476.2 633.2,460.2 634.2,495.7 635.2,496.0 636.2,462.6 637.2,468.7 638.2,496.2 639.1,495.3 640.1,469.9 641.1,470.2 642.1,494.3 643.1,493.4 644.1,469.7 645.1,468.2 646.1,493.2 647.1,492.5 648.1,460.8 649.1,457.3 650.0,478.0 651.0,475.9 652.0,452.6 653.0,442.1 654.5,475.2 658.1,450.0 659.5,420.0 660.5,380.0 662.0,350.0 664.0,320.0 665.3,295.0 667.0,255.0 668.5,225.0 670.0,195.0 670.8,140.0 675.9,98.0 677.6,145.0 679.5,205.0 680.5,232.0 682.0,280.0 683.5,310.0 685.2,340.0 687.0,380.0 688.6,420.0 691.2,460.0 694.0,500.0 696.1,520.0 698.0,512.4 699.5,471.2 700.5,473.3 701.5,511.3 702.5,511.3 703.5,476.0 704.5,486.1 705.5,511.4 706.5,511.5 707.5,490.1 708.5,491.0 709.5,511.5 710.5,511.6 711.5,490.2 712.5,487.7 713.5,509.2 714.5,508.3 715.5,483.7 716.5,482.2 717.5,508.9 718.5,509.6 719.5,487.1 720.5,488.0 721.5,508.8 722.5,510.8 723.5,487.3 724.5,485.5 725.5,500.9 726.5,495.2 727.5,484.2 728.5,486.2 729.5,493.6 730.5,493.2 731.5,486.9 732.5,486.0 733.5,493.2 734.5,493.2 735.5,483.4 736.5,471.4 737.5,489.2 738.5,484.6 739.5,468.8 740.5,466.1 741.5,479.2 742.5,474.2 743.5,464.0 744.5,463.2 745.5,472.4 746.5,467.0 747.5,459.8 748.5,449.8 749.5,459.5 750.5,447.9 751.5,433.1 752.5,424.3 753.5,432.1 754.5,427.1 755.5,407.3 756.5,401.1 757.5,425.0 758.5,423.6 759.5,396.9 760.5,397.6 761.6,423.5 762.6,424.8 763.6,396.7 764.6,401.0 765.6,428.5 766.6,432.5 767.6,400.2 768.6,397.6 769.6,434.5 770.6,401.4 771.6,375.2 772.6,351.5 773.6,374.6 774.6,362.1 775.6,343.4 776.6,341.3 777.6,361.2 778.6,361.9 779.6,328.6 780.6,335.8 781.6,363.7 782.6,375.1 783.6,360.9 784.6,378.3 785.6,395.5 786.6,404.1 787.6,397.1 788.6,404.6 789.6,419.6 790.6,434.2 791.6,423.3 792.6,435.6 793.6,455.4 794.6,468.9 795.6,447.3 796.6,458.0 797.6,470.0 798.6,472.6 799.6,467.3 800.6,471.3 801.6,496.8 802.6,497.5 803.6,475.1 804.6,477.0 805.6,498.9 806.6,503.7 807.6,478.6 808.6,480.3 809.6,508.8 810.6,510.0 811.6,495.5 812.6,499.9 813.6,512.6 814.6,518.5 815.6,501.0 816.6,500.7 817.6,519.5 818.6,520.2 819.6,500.2 820.6,500.8 821.6,518.4 822.6,516.5 823.6,501.4 824.6,502.1 825.6,513.0 826.6,510.3 827.6,501.4 828.6,498.7 829.6,509.4 830.6,509.4 831.6,482.8 832.6,488.8 833.6,509.5 834.6,509.7 835.6,490.7 836.6,491.2 837.6,510.4 838.6,512.9 839.6,491.2 840.6,491.2 841.6,517.9 842.6,518.3 843.6,491.9 844.6,494.7 845.6,519.0 846.6,521.2 847.6,497.1 848.6,498.0 849.6,524.0 850.6,526.2 851.6,498.2 852.6,498.2 853.6,525.7 854.6,525.3 855.6,498.2 856.6,498.7 857.6,524.9 858.6,522.8 859.6,499.7 860.6,499.9 861.6,519.4 862.6,517.2 863.6,499.5 864.6,498.2 865.6,515.7 866.6,515.6 867.6,503.1 868.6,506.6 869.6,517.0 870.6,524.6 871.6,510.0 872.6,511.7 873.6,535.9 874.6,539.2 875.6,512.2 876.6,512.2 877.6,537.2 878.6,532.6 879.6,512.2 880.6,511.9 881.6,520.8 882.6,517.4 883.6,510.5 884.6,503.9 885.6,516.4 886.7,516.0 887.7,495.7 888.7,494.9 889.7,514.9 890.7,504.1 891.7,493.7 892.7,492.1 893.7,499.5 894.7,495.9 895.7,490.5 896.7,486.4 897.7,491.4 898.7,485.7 899.7,479.3 900.7,461.2 901.7,478.3 902.7,467.3 903.7,445.1 904.7,443.3 905.7,463.3 906.7,461.6 907.7,442.7 908.7,441.0 909.7,459.5 910.7,456.8 911.7,432.1 912.7,441.3 913.7,455.5 914.7,455.6 915.7,443.4 916.7,445.4 917.7,459.4 918.7,477.6 919.7,460.4 920.7,466.8 921.7,479.1 922.7,484.9 923.7,477.1 924.7,485.7 925.7,491.3 926.7,504.9 927.7,492.1 928.7,506.4 929.7,514.3 930.7,525.4 931.7,512.1 932.7,513.0 933.7,527.9 934.7,529.6 935.7,512.5 936.7,511.6 937.7,529.4 938.7,529.3 939.7,511.7 940.7,511.8 941.7,529.0 942.7,529.2 943.7,512.1 944.7,517.4 945.7,530.8 946.7,546.6 947.7,525.2 948.7,526.6 949.7,541.0 950.7,531.0 951.7,526.6 952.7,525.2 953.7,529.3 954.7,527.4 955.7,522.6 956.7,517.0 957.7,522.7 958.7,515.9 959.7,508.5 960.7,497.9 961.7,507.4 962.7,501.9 963.7,486.0 964.7,481.1 965.7,499.9 966.7,480.1 967.7,467.4 968.7,461.2 969.7,472.0 970.7,460.3 971.7,440.7 972.7,437.1 973.7,452.0 974.7,447.6 975.7,418.5 976.7,403.9 977.7,416.0 978.7,411.5 979.7,365.6 980.7,385.3 981.7,411.1 982.7,411.5 983.7,390.0 984.7,407.2 985.7,413.1 986.7,429.8 987.7,411.5 988.7,427.3 989.7,444.3 990.7,447.3 991.7,429.5 992.7,448.3 993.7,453.5 994.7,462.5 995.7,454.2 996.7,455.1 997.7,463.5 998.7,465.1 999.7,455.8 1000.7,456.4 1001.7,470.6 1002.7,472.8 1003.7,461.2 1004.7,462.8 1005.7,474.1 1006.7,478.1 1007.7,464.0 1008.7,467.0 1009.7,501.8 1010.7,504.4 1011.8,472.8 1012.8,501.2 1013.8,515.5 1014.8,523.9 1015.8,504.5 1016.8,505.9 1017.8,525.3 1018.8,529.2 1019.8,506.6 1020.8,507.3 1021.8,534.9 1022.8,536.5 1023.8,507.2 1024.8,506.7 1025.8,538.4 1026.8,541.6 1027.8,506.2 1028.8,529.8 1029.8,544.4 1030.8,545.2 1031.8,532.4 1032.8,533.2 1033.8,546.1 1034.8,547.5 1035.8,534.6 1036.8,539.5 1037.8,549.0 1038.8,550.5 1039.8,540.9 1040.8,541.6 1041.8,551.2 1042.8,551.6 1043.8,542.0 1044.8,540.9 1045.8,551.5 1046.8,551.3 1047.8,528.8 1048.8,530.7 1049.8,551.5 1050.8,551.9 1051.8,533.5 1052.8,534.9 1053.8,552.3 1054.8,553.4 1055.8,535.2 1056.8,535.3 1057.8,555.9 1058.8,558.1 1059.8,536.9 1060.8,538.6 1061.8,559.2 1062.8,553.9 1063.8,540.6 1064.8,542.4 1065.8,552.7 1066.8,552.8 1067.8,543.1 1068.8,543.0 1069.8,554.4 1070.8,557.6 1071.8,542.8 1072.8,542.4 1073.8,562.2 1074.8,560.8 1075.8,541.2 1076.8,541.4 1077.8,559.7 1078.8,558.4 1079.8,541.8 1080.8,542.0 1081.8,557.1 1082.8,555.9 1083.8,541.0 1084.8,531.2 1085.8,554.6 1086.8,553.6 1087.8,532.4 1088.8,533.4 1089.8,553.7 1090.8,555.2 1091.8,534.4 1092.8,540.8 1093.8,557.2 1094.8,558.8 1095.8,543.4 1096.8,544.1 1097.8,557.5 1098.8,554.9 1099.8,544.2 1100.8,543.7 1101.8,553.5 1102.8,553.1 1103.8,541.8 1104.8,525.2 1105.8,552.7 1106.8,552.3 1107.8,542.5 1108.8,543.9 1109.8,553.1 1110.8,554.2 1111.8,543.8 1112.8,542.9 1113.8,553.7 1114.8,552.9 1115.8,541.6 1116.8,542.1 1117.8,552.5 1118.8,553.4 1119.8,543.2 1120.8,544.8 1121.8,557.2 1122.8,568.2 1123.8,546.4 1124.8,546.9 1125.8,567.1 1126.8,565.3 1127.8,546.0 1128.8,534.2 1129.8,558.7 1130.8,556.0 1131.8,535.4 1132.8,536.2 1133.8,555.3 1134.8,555.6 1135.8,537.3 1136.9,537.7 1137.9,555.9 1138.9,556.2 1139.9,537.9 1140.9,538.1 1141.9,555.5 1142.9,554.5 1143.9,537.2 1144.9,534.0 1145.9,552.9 1146.9,547.7 1147.9,530.6 1148.9,529.8 1149.9,540.9 1150.9,539.4 1151.9,528.2 1152.9,518.7 1153.9,538.2 1154.9,537.0 1155.9,511.7 1156.9,508.8 1157.9,536.0 1158.9,527.6 1159.9,508.2 1160.9,509.4 1161.9,525.8 1162.9,525.5 1163.9,510.1 1164.9,509.2 1165.9,526.1 1166.9,526.8 1167.9,507.2 1168.9,506.2 1169.9,526.6 1170.9,526.4 1171.9,508.5 1172.9,509.8 1173.9,526.6 1174.9,528.2 1175.9,509.7 1176.9,508.8 1177.9,532.2 1178.9,519.5 1179.9,507.8 1180.9,506.2 1181.9,517.6 1182.9,516.3 1183.9,495.5 1184.9,494.1 1185.9,513.0 1186.9,511.6 1187.9,494.0 1188.9,493.1 1189.9,511.5 1190.9,512.2 1191.9,489.9 1192.9,483.7 1193.9,512.1 1194.9,511.7 1195.9,484.1 1196.9,484.5 1197.9,511.4 1198.9,511.6 1199.9,485.1 1200.9,510.9 1201.9,515.8 1202.9,531.4 1203.9,516.5 1204.9,522.1 1205.9,550.6 1206.9,549.9 1207.9,523.0 1208.9,522.7 1209.9,549.6 1210.9,549.7 1211.9,522.2 1212.9,528.5 1213.9,551.2 1214.9,557.4 1215.9,540.3 1216.9,542.1 1217.9,563.6 1218.9,563.5 1219.9,544.9 1220.9,551.5 1221.9,563.4 1222.9,563.7 1223.9,554.1 1224.9,555.0 1225.9,565.2 1226.9,568.8 1227.9,554.4 1228.9,553.5 1229.9,569.2 1230.9,569.6 1231.9,552.7 1232.9,552.2 1233.9,571.2 1234.9,574.4 1235.9,552.2 1236.9,552.4 1237.9,575.1 1238.9,575.6 1239.9,554.7 1240.9,558.3 1241.9,576.8 1242.9,578.2 1243.9,559.8 1244.9,560.0 1245.9,577.1 1246.9,576.1 1247.9,559.9 1248.9,559.6 1249.9,575.3 1250.9,575.0 1251.9,564.3 1252.9,565.1 1253.9,574.6 1254.9,574.3 1255.9,564.7 1256.9,564.3 1257.9,573.9 1258.9,573.5 1259.9,563.8 1260.9,562.4 1262.0,573.7 1263.0,575.1 1264.0,560.4 1265.0,558.3 1266.0,577.6 1267.0,579.4 1268.0,545.2 1269.0,556.2 1270.0,580.2 1271.0,572.2 1272.0,559.9 1273.0,560.8 1274.0,570.7 1275.0,570.2 1276.0,560.1 1277.0,557.5 1278.0,570.3 1279.0,571.2 1280.0,555.2 1281.0,553.6 1282.0,574.8 1283.0,581.2 1284.0,557.8 1285.0,558.1 1286.0,579.7 1287.0,578.6 1288.0,558.0 1289.0,557.9 1290.0,578.1 1291.0,577.8 1292.0,557.8 1293.0,557.7 1294.0,577.4 1295.0,577.5 1296.0,557.6 1297.0,558.5 1298.0,577.8 1299.0,578.2 1300.0,559.0 1301.0,557.9 1302.0,578.7 1303.0,580.5 1304.0,554.0 1305.0,550.1 1306.0,583.9 1307.0,584.2 1308.0,550.5 1309.0,550.9 1310.0,584.2 1311.0,584.2 1312.0,550.6 1313.0,549.4 1314.0,582.9 1315.0,575.8 1316.0,548.1 1317.0,551.2 1318.0,574.5 1319.0,574.0 1320.0,553.4 1321.0,554.0 1322.0,569.3 1323.0,564.8 1324.0,553.9 1325.0,553.5 1326.0,563.6 1327.0,564.0 1328.0,556.7 1329.0,558.2 1330.0,566.1 1331.0,577.6 1332.0,559.9 1333.0,561.9 1334.0,577.5 1335.0,577.4 1336.0,562.9 1337.0,562.5 1338.0,575.4 1339.0,573.4 1340.0,561.1 1341.0,559.6 1342.0,571.8 1343.0,571.5 1344.0,558.2 1345.0,565.5 1346.0,572.7 1347.0,579.9 1348.0,566.8 1349.0,566.7 1350.0,585.2 1351.0,581.7 1352.0,565.6 1353.0,564.7 1354.0,579.9 1355.0,579.6 1356.0,564.2 1357.0,565.2 1358.0,580.8 1359.0,585.0 1360.0,568.2 1361.0,570.8 1362.0,587.6 1363.0,578.0 1364.0,571.9 1365.0,571.5 1366.0,575.8 1367.0,575.1 1368.0,569.8 1369.0,567.8 1370.0,574.6 1371.0,574.4 1372.0,566.2 1373.0,566.8 1374.0,575.6 1375.0,588.2 1376.0,567.6 1377.0,567.9 1378.0,587.5 1379.0,587.0 1380.0,566.8 1381.0,564.3 1382.0,586.2 1383.0,585.0 1384.0,562.4 1385.0,561.3 1386.0,577.1 1387.0,572.6 1388.1,560.2 1389.1,562.0 1390.1,571.4 1391.1,571.2 1392.1,562.9 1393.1,562.7 1394.1,571.2 1395.1,570.6 1396.1,562.2 1397.1,562.6 1398.1,569.4 1399.1,568.4 1400.1,563.3 1401.1,564.0 1402.1,568.9 1403.1,570.8 1404.1,564.6 1405.1,565.3 1406.1,574.3 1407.1,577.2 1408.1,566.0 1409.1,565.8 1410.1,576.0 1411.1,574.8 1412.1,565.4 1413.1,565.0 1414.1,574.4 1415.1,574.8 1416.1,564.0 1417.1,562.8 1418.1,575.2 1419.1,575.8 1420.1,561.6 1421.1,559.9 1422.1,578.0 1423.1,587.6 1424.1,557.2 1425.1,557.5 1426.1,575.0 1427.1,572.8 1428.1,557.8 1429.1,557.9 1430.1,572.2 1431.1,570.1 1432.1,556.7 1433.1,550.5 1434.1,563.9 1435.1,561.7 1436.1,541.1 1437.1,539.8 1438.1,560.2 1439.1,556.3 1440.1,537.9 1441.1,535.9 1442.1,549.5 1443.1,542.3 1444.1,529.1 1445.1,512.1 1446.1,539.3 1447.1,532.1 1448.1,500.1 1449.1,494.1 1450.1,530.0 1451.1,529.5 1452.1,496.7 1453.1,503.9 1454.1,530.5 1455.1,533.6 1456.1,511.5 1457.1,532.6 1458.1,542.4 1459.1,549.1 1460.1,538.3 1461.1,540.5 1462.1,550.5 1463.1,553.6 1464.1,541.5 1465.1,547.1 1466.1,560.7 1467.1,576.2 1468.1,555.3 1469.1,557.5 1470.1,575.9 1471.1,575.4 1472.1,558.1 1473.1,558.5 1474.1,575.8 1475.1,577.6 1476.1,558.8 1477.1,559.0 1478.1,580.6 1479.1,582.5 1480.1,558.1 1481.1,557.2 1482.1,583.4 1483.1,584.9 1484.1,565.4 1485.1,567.5 1486.1,586.6 1487.1,587.8 1488.1,568.2 1489.1,568.7 1490.1,588.8 1491.1,589.5 1492.1,568.9 1493.1,567.8 1494.1,590.2 1495.1,586.9 1496.1,563.3 1497.1,559.2 1498.1,578.6 1499.1,577.3 1500.1,559.4 1501.1,559.8 1502.1,576.3 1503.1,575.3 1504.1,559.9 1505.1,558.8 1506.1,574.4 1507.1,573.6 1508.1,553.1 1509.1,553.4 1510.1,572.8 1511.1,572.3 1512.1,554.7 1513.2,558.5 1514.2,573.3 1515.2,574.5 1516.2,562.7 1517.2,563.9 1518.2,574.8 1519.2,575.2 1520.2,564.7 1521.2,565.5 1522.2,575.7 1523.2,577.6 1524.2,566.7 1525.2,567.9 1526.2,581.5 1527.2,583.9 1528.2,568.9 1529.2,568.6 1530.2,585.2 1531.2,585.2 1532.2,567.2 1533.2,568.3 1534.2,584.9 1535.2,584.4 1536.2,569.5 1537.2,570.2 1538.2,584.7 1539.2,588.2 1540.2,570.7 1541.2,571.0 1542.2,587.7 1543.2,587.6 1544.2,570.3 1545.2,569.5 1546.2,586.9 1547.2,585.9 1548.2,568.7 1549.2,567.9 1550.2,585.4 1551.2,586.4 1552.2,567.2 1553.2,576.5 1554.2,597.2 1555.2,591.2 1556.2,577.8 1557.2,577.8 1558.2,583.8 1559.2,582.4 1560.2,577.3 1561.2,576.6 1562.2,581.4 1563.2,580.4 1564.2,574.8 1565.2,562.2 1566.2,580.7 1567.2,582.6 1568.2,563.0 1569.2,563.9 1570.2,587.5 1571.2,589.6 1572.2,564.7 1573.2,568.2 1574.2,583.8 1575.2,582.5 1576.2,570.4 1577.2,571.1 1578.2,582.2 1579.2,582.2 1580.2,571.2 1581.2,571.2 1582.2,582.2 1583.2,582.4 1584.2,570.6 1585.2,568.8 1586.2,582.7 1587.2,582.8 1588.2,564.2 1589.2,564.5 1590.2,582.1 1591.2,581.4 1592.2,569.2 1593.2,571.3 1594.2,580.9 1595.2,580.4 1596.2,572.1 1597.2,572.2 1598.2,580.7 1599.2,582.3 1600.2,572.2 1601.2,571.6 1602.2,584.3 1603.2,586.2 1604.2,569.8 1605.2,563.7 1606.2,584.1 1607.2,579.9 1608.2,562.7 1609.2,560.8 1610.2,578.5 1611.2,578.2 1612.2,552.1 1613.2,552.4 1614.2,578.2 1615.2,575.3 1616.2,552.9 1617.2,552.6 1618.2,564.8 1619.2,563.5 1620.2,550.8 1621.2,534.7 1622.2,563.0 1623.2,562.6 1624.2,535.1 1625.2,535.6 1626.2,562.3 1627.2,562.7 1628.2,535.9 1629.2,534.9 1630.2,563.1 1631.2,563.2 1632.2,531.5 1633.2,529.1 1634.2,563.2 1635.2,563.2 1636.2,542.5 1637.2,543.9 1638.3,563.0 1639.3,562.6 1640.3,544.4 1641.3,545.1 1642.3,562.2 1643.3,563.0 1644.3,555.5 1645.3,561.2 1646.3,565.6 1647.3,577.5 1648.3,565.0 1649.3,567.1 1650.3,579.1 1651.3,583.5 1652.3,569.1 1653.3,570.7 1654.3,582.7 1655.3,582.5 1656.3,570.8 1657.3,569.4 1658.3,582.4 1659.3,582.9 1660.3,566.6 1661.3,564.7 1662.3,583.4 1663.3,584.8 1664.3,564.1 1665.3,572.8 1666.3,593.6 1667.3,590.4 1668.3,574.6 1669.3,574.9 1670.3,588.0 1671.3,587.2 1672.3,574.6 1673.3,574.3 1674.3,587.2 1675.3,587.2 1676.3,573.8 1677.3,572.4 1678.3,587.5 1679.3,588.7 1680.3,567.5 1681.3,566.1 1682.3,590.3 1683.3,591.9 1684.3,577.0 1685.3,578.0 1686.3,594.4 1687.3,598.6 1688.3,578.4 1689.3,578.7 1690.3,595.8 1691.3,593.3 1692.3,579.0 1693.3,579.4 1694.3,592.4 1695.3,593.1 1696.3,579.7 1697.3,580.0 1698.3,595.7 1699.3,604.2 1700.3,580.1 1701.3,580.1 1702.3,599.7 1703.3,596.4 1704.3,579.3 1705.3,576.9 1706.3,595.4 1707.3,595.7 1708.3,574.1 1709.3,576.0 1710.3,596.2 1711.3,595.9 1712.3,576.9 1713.3,576.3 1714.3,595.6 1715.3,594.7 1716.3,574.3 1717.3,572.4 1718.3,589.5 1719.3,587.6 1720.3,571.8 1721.3,570.5 1722.3,586.8 1723.3,583.7 1724.3,562.7 1725.3,556.2 1726.3,572.9 1727.3,568.3 1728.3,555.3 1729.3,552.9 1730.3,567.0 1731.3,565.8 1732.3,547.1 1733.3,545.1 1734.3,564.9 1735.3,565.0 1736.3,548.0 1737.3,550.0 1738.3,565.2 1739.3,565.9 1740.3,552.0 1741.3,553.6 1742.3,568.2 1743.3,570.5 1744.3,554.6 1745.3,555.6 1746.3,571.1 1747.3,569.2 1748.3,557.0 1749.3,559.0 1750.3,568.3 1751.3,568.7 1752.3,561.0 1753.3,561.9 1754.3,569.4 1755.3,570.8 1756.3,561.4 1757.3,559.6 1758.3,574.5 1759.3,577.5 1760.3,558.6 1761.3,558.1 1762.3,576.6 1763.4,575.6 1764.4,567.9 1765.4,568.9 1766.4,575.1 1767.4,575.2 1768.4,568.7 1769.4,568.5 1770.4,576.0 1771.4,578.6 1772.4,568.1 1773.4,575.0 1774.4,588.6 1775.4,589.0 1776.4,576.0 1777.4,580.5 1778.4,589.2 1779.4,589.9 1780.4,583.9 1781.4,584.9 1782.4,591.9 1783.4,594.4 1784.4,584.4 1785.4,582.6 1786.4,595.2 1787.4,594.6 1788.4,580.6 1789.4,579.1 1790.4,594.4 1791.4,595.6 1792.4,581.0 1793.4,582.0 1794.4,597.6 1795.4,598.8 1796.4,582.1 1797.4,581.9 1798.4,599.8 1799.4,600.7 1800.4,581.1 1801.4,583.5 1802.4,601.2 1803.4,601.7 1804.4,586.8 1805.4,589.0 1806.4,602.5 1807.4,603.7 1808.4,591.0 1809.4,592.6 1810.4,604.8 1811.4,605.6 1812.4,593.2 1813.4,593.7 1814.4,604.6 1815.4,603.3 1816.4,593.9 1817.4,592.7 1818.4,601.4 1819.4,600.3 1820.4,591.2 1821.4,590.1 1822.4,599.9 1823.4,599.5 1824.4,589.3 1825.4,589.1 1826.4,599.4 1827.4,600.6 1828.4,589.1 1829.4,589.5 1830.4,604.0 1831.4,604.6 1832.4,591.0 1833.4,592.0 1834.4,602.5 1835.4,600.7 1836.4,591.5 1837.4,589.5 1838.4,600.4 1839.4,601.3 1840.4,586.9 1841.4,585.7 1842.4,602.3 1843.4,603.2 1844.4,584.5 1845.4,583.1 1846.4,604.0 1847.4,604.7 1848.4,583.8 1849.4,584.7 1850.4,605.6 1851.4,599.6 1852.4,585.6 1853.4,586.6 1854.4,597.7 1855.4,597.1 1856.4,587.4 1857.4,588.2 1858.4,596.6 1859.4,596.4 1860.4,589.0 1861.4,588.5 1862.4,597.6 1863.4,602.2 1864.4,586.7 1865.4,585.6 1866.4,603.2 1867.4,601.4 1868.4,585.1 1869.4,592.7 1870.4,599.4 1871.4,598.3 1872.4,594.6 1873.4,595.4 1874.4,598.9 1875.4,601.0 1876.4,596.2 1877.4,597.0 1878.4,607.4 1879.4,610.6 1880.4,597.4 1881.4,597.8 1882.4,607.6 1883.4,605.7 1884.4,597.9 1885.4,596.7 1886.4,604.5 1887.4,603.3 1888.5,594.8 1889.5,593.0 1890.5,602.4 1891.5,602.2 1892.5,591.5 1893.5,593.0 1894.5,602.2 1895.5,602.2 1896.5,594.1 1897.5,595.1 1898.5,602.8 1899.5,603.8 1900.5,596.0 1901.5,595.6 1902.5,604.8 1903.5,607.0 1904.5,594.9 1905.5,593.7 1906.5,612.6 1907.5,601.9 1908.5,586.0 1909.5,579.5 1910.5,600.5 1911.5,600.0 1912.5,584.5 1913.5,586.4 1914.5,599.7 1915.5,599.3 1916.5,586.8 1917.5,585.8 1918.5,599.4 1919.5,599.6 1920.5,583.8 1921.5,583.1 1922.5,600.2 1923.5,602.4 1924.5,590.6 1925.5,594.2 1926.5,604.2 1927.5,602.7 1928.5,595.1 1929.5,595.7 1930.5,602.4 1931.5,603.6 1932.5,595.9 1933.5,594.8 1934.5,606.3 1935.5,608.2 1936.5,592.5 1937.5,590.1 1938.5,607.5 1939.5,606.4 1940.5,587.6 1941.5,585.1 1942.5,604.4 1943.5,602.8 1944.5,583.3 1945.5,582.1 1946.5,602.4 1947.5,602.9 1948.5,584.0 1949.5,585.4 1951.0,603.4 1958.0,603.4" fill="none" stroke="#f00" stroke-width="10" stroke-linejoin="round" stroke-linecap="butt"/>
</g>
<g id="markers" fill="#000">
<polygon points="586.4,121.6 592.8,135.5 608.1,137.4 596.8,147.8 599.8,162.8 586.4,155.3 573.0,162.8 576.0,147.8 564.7,137.4 580.0,135.5"/>
<polygon points="676.2,41.6 682.6,55.5 697.9,57.4 686.6,67.8 689.6,82.8 676.2,75.3 662.8,82.8 665.8,67.8 654.5,57.4 669.8,55.5"/>
<polygon points="778.2,251.6 784.6,265.5 799.9,267.4 788.6,277.8 791.6,292.8 778.2,285.3 764.8,292.8 767.8,277.8 756.5,267.4 771.8,265.5"/>
<polygon points="983.4,295.6 989.8,309.5 1005.1,311.4 993.8,321.8 996.8,336.8 983.4,329.3 970.0,336.8 973.0,321.8 961.7,311.4 977.0,309.5"/>
<polygon points="1192.0,422.6 1198.4,436.5 1213.7,438.4 1202.4,448.8 1205.4,463.8 1192.0,456.3 1178.6,463.8 1181.6,448.8 1170.3,438.4 1185.6,436.5"/>
<polygon points="1452.2,430.6 1458.6,444.5 1473.9,446.4 1462.6,456.8 1465.6,471.8 1452.2,464.3 1438.8,471.8 1441.8,456.8 1430.5,446.4 1445.8,444.5"/>
<polygon points="1631.3,465.6 1637.7,479.5 1653.0,481.4 1641.7,491.8 1644.7,506.8 1631.3,499.3 1617.9,506.8 1620.9,491.8 1609.6,481.4 1624.9,479.5"/>
<circle cx="289.3" cy="1062.5" r="9.5"/>
<circle cx="537.4" cy="1040.5" r="9.5"/>
<circle cx="1040.3" cy="1095.3" r="9.5"/>
<polygon points="1176.0,775.6 1184.1,793.2 1203.4,795.5 1189.1,808.7 1192.9,827.7 1176.0,818.2 1159.1,827.7 1162.9,808.7 1148.6,795.5 1167.9,793.2"/>
<circle cx="1178.5" cy="937.3" r="13.6"/>
</g>
<line x1="1222" y1="134" x2="1350" y2="134" stroke="#f00" stroke-width="10.6" stroke-linecap="round"/>
<line x1="1218.5" y1="218" x2="1346.5" y2="218" stroke="#000" stroke-width="10.6" stroke-linecap="round"/>
<g id="labels" font-family="'Liberation Serif', serif" fill="#000" stroke="#000" stroke-width="0.35" stroke-linejoin="round">
<text x="114.8" y="1411.6" font-size="78" textLength="73.8" lengthAdjust="spacingAndGlyphs">20</text>
<text x="474.8" y="1411.6" font-size="78" textLength="73.8" lengthAdjust="spacingAndGlyphs">25</text>
<text x="834.8" y="1411.6" font-size="78" textLength="73.8" lengthAdjust="spacingAndGlyphs">30</text>
<text x="1194.8" y="1411.6" font-size="78" textLength="73.8" lengthAdjust="spacingAndGlyphs">35</text>
<text x="1554.8" y="1411.6" font-size="78" textLength="73.8" lengthAdjust="spacingAndGlyphs">40</text>
<text x="1914.8" y="1411.6" font-size="78" textLength="73.8" lengthAdjust="spacingAndGlyphs">45</text>
<text x="1368" y="153" font-size="72" textLength="457" lengthAdjust="spacingAndGlyphs">with molten salts</text>
<text x="1364" y="238" font-size="72" textLength="543" lengthAdjust="spacingAndGlyphs">without molten salts</text>
<text x="1208.5" y="832" font-size="76" textLength="701" lengthAdjust="spacingAndGlyphs">Leucite(PDF-#38-1423)</text>
<text x="1214.5" y="959.5" font-size="76" textLength="681" lengthAdjust="spacingAndGlyphs">Quartz(PDF-#89-8934)</text>
<text transform="translate(70 1047.2) rotate(-90)" font-size="76" textLength="666.5" lengthAdjust="spacingAndGlyphs">Relative intensity(a.u)</text>
<text x="899.5 936 969.3 1032 1060.8" y="1513" font-size="76">2θ(°)</text>
</g>
</svg>
</body>
</html>
